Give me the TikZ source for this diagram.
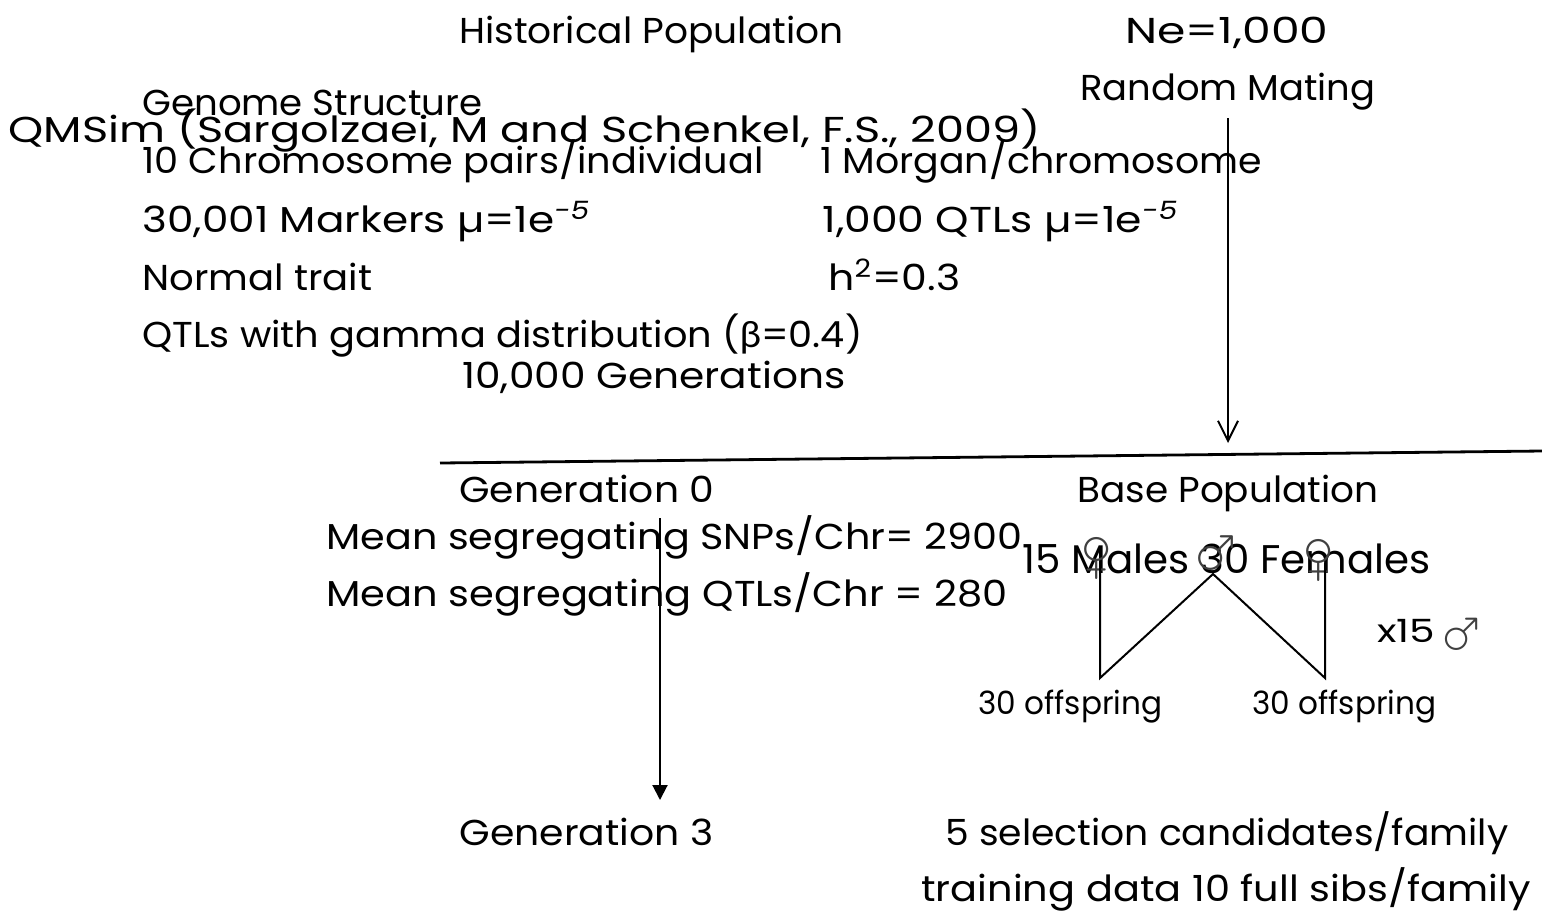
\documentclass[tikz,border=0pt]{standalone}
\usepackage{graphicx}
\usepackage{wasysym}
\usepackage{fontspec}
\setmainfont{Poppins}
\newfontfamily\grk{Lato}
\usetikzlibrary{arrows.meta}
% set a line of text to a given width (in drawing units of 0.5pt)
\newcommand\fw[2]{\resizebox{\dimexpr #1pt/2\relax}{\height}{#2}}
% thin gender signs
\newcommand\fsign{\scalebox{2.8}{\female}}
\newcommand\msign{\scalebox{2.8}{\male}}
\tikzset{
  txt/.style={anchor=base west, inner sep=0pt, font=\fontsize{18}{20}\selectfont},
  bigtxt/.style={txt, font=\fontsize{20}{22}\selectfont},
  smalltxt/.style={txt, font=\fontsize{16}{18}\selectfont},
  gsym/.style={anchor=center, inner sep=0pt, text=black!75, font=\fontsize{10}{12}\selectfont},
  link/.style={line width=1pt},
  openarrow/.style={link, -{Straight Barb[length=10pt,width=10pt,line width=1pt]}},
  fillarrow/.style={link, -{Triangle[length=7.5pt,width=7.5pt]}},
}
\begin{document}
\begin{tikzpicture}[x=0.5pt, y=-0.5pt]
\useasboundingbox (0,0) rectangle (1542,912);

% historical population block
\node[txt] (hist) at (459,43) {\fw{384}{Historical Population}};
\node[txt] (ne) at (1125,43) {\fw{203}{Ne=1,000}};
\node[txt] (rm) at (1080,100) {\fw{295}{Random Mating}};
\node[txt] (gs) at (142,115) {\fw{340}{Genome Structure}};
\node[txt] (qm) at (8,142) {\fw{1032}{QMSim (Sargolzaei, M and Schenkel, F.S., 2009)}};
\node[txt] (chr) at (142,173) {\fw{621}{10 Chromosome pairs/individual}};
\node[txt] (mor) at (820,173) {\fw{442}{1 Morgan/chromosome}};
\node[txt] (mk) at (142,232) {\fw{448}{30,001 Markers µ=1e\textsuperscript{\itshape -5}}};
\node[txt] (qtl) at (822,232) {\fw{356}{1,000 QTLs µ=1e\textsuperscript{\itshape -5}}};
\node[txt] (nt) at (142,290) {\fw{230}{Normal trait}};
\node[txt] (h2) at (828,290) {\fw{132}{h\textsuperscript{2}=0.3}};
\node[txt] (gam) at (142,347) {\fw{720}{QTLs with gamma distribution ({\grk β}=0.4)}};
\node[txt] (tenk) at (462,388) {\fw{383}{10,000 Generations}};

% divider between historical and recent generations
\coordinate (divl) at (440,463);
\coordinate (divr) at (1542,451);
\draw[line width=1.4pt] (divl) -- (divr);

\coordinate (rmtop) at (1228,118);
\coordinate (rmbot) at (1228,443);
\draw[openarrow] (rmtop) -- (rmbot);

% recent generations
\node[txt] (g0) at (459,502) {\fw{255}{Generation 0}};
\node[txt] (base) at (1077,502) {\fw{301}{Base Population}};
\node[txt] (snp) at (326,549) {\fw{696}{Mean segregating SNPs/Chr= 2900}};
\node[txt] (sq) at (326,606) {\fw{681}{Mean segregating QTLs/Chr = 280}};
\node[bigtxt] (mf) at (1022,573) {\fw{408}{15 Males 30 Females}};
\node[smalltxt] (x15) at (1377,642) {\fw{58}{x15}};
\node[gsym] (x15m) at (1463,632) {\scalebox{2.6}{\male}};
\node[smalltxt] (off1) at (978,714) {\fw{184}{30 offspring}};
\node[smalltxt] (off2) at (1252,714) {\fw{184}{30 offspring}};
\node[txt] (g3) at (459,845) {\fw{254}{Generation 3}};
\node[txt] (cand) at (945,845) {\fw{563}{5 selection candidates/family}};
\node[txt] (train) at (921,901) {\fw{609}{training data 10 full sibs/family}};

\coordinate (g0bot) at (660,518);
\coordinate (g3top) at (660,800);
\draw[fillarrow] (g0bot) -- (g3top);

% mating scheme
\node[gsym] (dam1) at (1097,558) {\fsign};
\node[gsym] (sire) at (1218,551) {\msign};
\node[gsym] (dam2) at (1319,560) {\fsign};
\coordinate (d1) at (1100,565);
\coordinate (c1) at (1100,678);
\coordinate (s) at (1213,574);
\coordinate (c2) at (1325,678);
\coordinate (d2) at (1325,563);
\draw[link] (d1) -- (c1) -- (s) -- (c2) -- (d2);
\end{tikzpicture}
\end{document}
